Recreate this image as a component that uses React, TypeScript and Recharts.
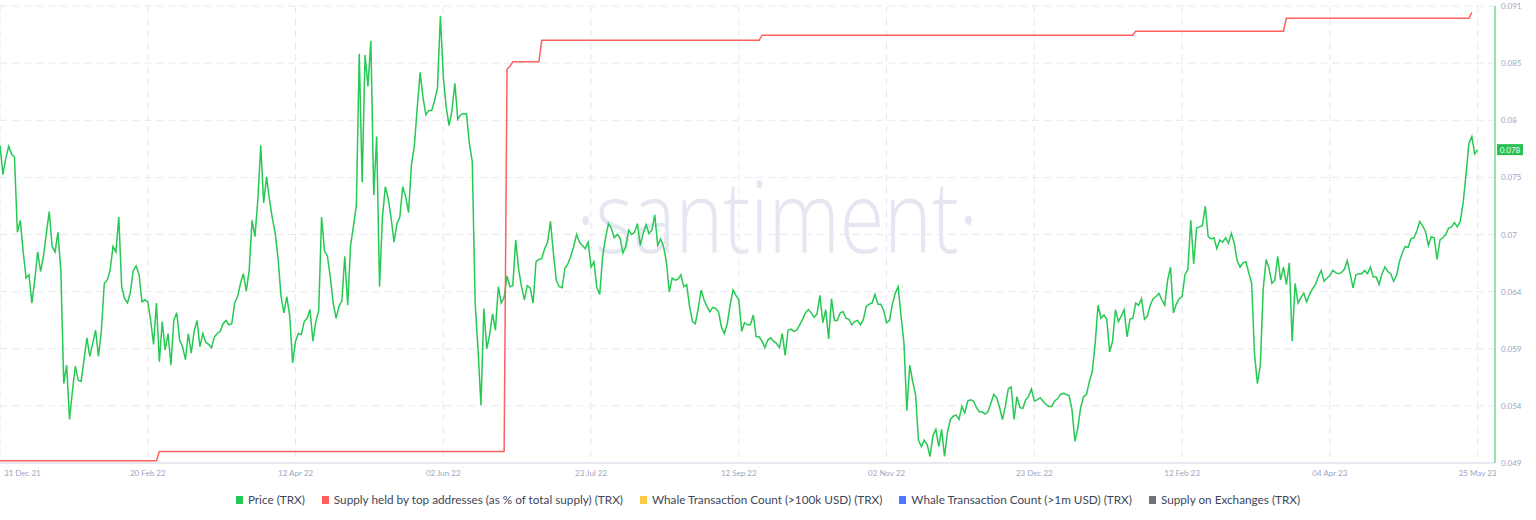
import React from 'react';
import { LineChart, Line, XAxis, YAxis, CartesianGrid, Legend, ReferenceLine } from 'recharts';

// x axis: days since 31 Dec 21
const tickDays = [0, 51, 102, 153, 204, 255, 306, 357, 408, 459, 510];
const tickLabels = ['31 Dec 21', '20 Feb 22', '12 Apr 22', '02 Jun 22', '23 Jul 22', '12 Sep 22', '02 Nov 22', '23 Dec 22', '12 Feb 23', '04 Apr 23', '25 May 23'];

// right (price) axis
const priceTicks = [0.049, 0.05425, 0.0595, 0.06475, 0.07, 0.07525, 0.0805, 0.08575, 0.091];
const priceTickLabels = ['0.049', '0.054', '0.059', '0.064', '0.07', '0.075', '0.08', '0.085', '0.091'];

// Price (TRX), one value per day starting 31 Dec 21
const prices = [
  0.0782, 0.0755, 0.0770, 0.0781, 0.0774, 0.0771, 0.0702, 0.0713, 0.0684, 0.0660,
  0.0663, 0.0637, 0.0658, 0.0684, 0.0666, 0.0680, 0.0701, 0.0721, 0.0689, 0.0684,
  0.0702, 0.0667, 0.0563, 0.0580, 0.0530, 0.0556, 0.0579, 0.0566, 0.0565, 0.0585,
  0.0605, 0.0588, 0.0600, 0.0612, 0.0588, 0.0612, 0.0655, 0.0658, 0.0667, 0.0689,
  0.0684, 0.0716, 0.0652, 0.0641, 0.0637, 0.0647, 0.0667, 0.0671, 0.0663, 0.0638,
  0.0640, 0.0638, 0.0621, 0.0599, 0.0637, 0.0583, 0.0620, 0.0594, 0.0609, 0.0580,
  0.0621, 0.0628, 0.0603, 0.0597, 0.0585, 0.0609, 0.0591, 0.0611, 0.0621, 0.0597,
  0.0609, 0.0601, 0.0599, 0.0596, 0.0606, 0.0609, 0.0611, 0.0618, 0.0621, 0.0617,
  0.0618, 0.0637, 0.0643, 0.0655, 0.0664, 0.0648, 0.0667, 0.0713, 0.0698, 0.0732,
  0.0782, 0.0729, 0.0753, 0.0732, 0.0715, 0.0701, 0.0677, 0.0643, 0.0628, 0.0643,
  0.0625, 0.0582, 0.0602, 0.0609, 0.0608, 0.0620, 0.0623, 0.0631, 0.0602, 0.0620,
  0.0630, 0.0716, 0.0685, 0.0680, 0.0661, 0.0637, 0.0623, 0.0634, 0.0639, 0.0680,
  0.0635, 0.0690, 0.0708, 0.0727, 0.0866, 0.0748, 0.0865, 0.0836, 0.0878, 0.0736,
  0.0790, 0.0652, 0.0716, 0.0744, 0.0733, 0.0715, 0.0693, 0.0710, 0.0716, 0.0744,
  0.0735, 0.0720, 0.0764, 0.0781, 0.0816, 0.0849, 0.0826, 0.0810, 0.0814, 0.0814,
  0.0823, 0.0835, 0.0901, 0.0845, 0.0817, 0.0800, 0.0814, 0.0839, 0.0806, 0.0810,
  0.0811, 0.0811, 0.0784, 0.0767, 0.0637, 0.0594, 0.0543, 0.0632, 0.0595, 0.0608,
  0.0627, 0.0612, 0.0652, 0.0637, 0.0642, 0.0662, 0.0652, 0.0653, 0.0695, 0.0668,
  0.0652, 0.0640, 0.0653, 0.0651, 0.0637, 0.0675, 0.0677, 0.0678, 0.0687, 0.0693,
  0.0712, 0.0683, 0.0658, 0.0652, 0.0651, 0.0669, 0.0673, 0.0680, 0.0689, 0.0700,
  0.0693, 0.0690, 0.0687, 0.0693, 0.0670, 0.0675, 0.0651, 0.0645, 0.0680, 0.0697,
  0.0710, 0.0706, 0.0697, 0.0700, 0.0697, 0.0683, 0.0689, 0.0704, 0.0700, 0.0702,
  0.0710, 0.0690, 0.0701, 0.0709, 0.0701, 0.0704, 0.0718, 0.0690, 0.0696, 0.0689,
  0.0675, 0.0647, 0.0660, 0.0658, 0.0659, 0.0663, 0.0652, 0.0654, 0.0634, 0.0620,
  0.0618, 0.0632, 0.0649, 0.0640, 0.0634, 0.0629, 0.0633, 0.0632, 0.0629, 0.0615,
  0.0609, 0.0618, 0.0635, 0.0649, 0.0644, 0.0640, 0.0611, 0.0619, 0.0617, 0.0617,
  0.0626, 0.0606, 0.0606, 0.0602, 0.0596, 0.0603, 0.0605, 0.0602, 0.0600, 0.0596,
  0.0609, 0.0589, 0.0612, 0.0613, 0.0611, 0.0612, 0.0617, 0.0622, 0.0628, 0.0631,
  0.0628, 0.0624, 0.0627, 0.0644, 0.0619, 0.0631, 0.0604, 0.0641, 0.0621, 0.0621,
  0.0628, 0.0629, 0.0623, 0.0622, 0.0617, 0.0620, 0.0621, 0.0617, 0.0622, 0.0634,
  0.0636, 0.0637, 0.0645, 0.0636, 0.0636, 0.0630, 0.0619, 0.0621, 0.0636, 0.0646,
  0.0652, 0.0625, 0.0600, 0.0538, 0.0580, 0.0565, 0.0553, 0.0511, 0.0505, 0.0511,
  0.0507, 0.0496, 0.0515, 0.0521, 0.0505, 0.0521, 0.0496, 0.0518, 0.0530, 0.0533,
  0.0534, 0.0530, 0.0542, 0.0536, 0.0547, 0.0548, 0.0547, 0.0541, 0.0537, 0.0537,
  0.0535, 0.0537, 0.0545, 0.0553, 0.0550, 0.0541, 0.0530, 0.0542, 0.0558, 0.0560,
  0.0530, 0.0551, 0.0541, 0.0540, 0.0548, 0.0551, 0.0558, 0.0547, 0.0548, 0.0550,
  0.0547, 0.0544, 0.0542, 0.0542, 0.0547, 0.0549, 0.0553, 0.0554, 0.0553, 0.0552,
  0.0539, 0.0510, 0.0522, 0.0541, 0.0551, 0.0553, 0.0565, 0.0574, 0.0600, 0.0635,
  0.0623, 0.0626, 0.0622, 0.0592, 0.0602, 0.0631, 0.0620, 0.0625, 0.0631, 0.0606,
  0.0622, 0.0623, 0.0637, 0.0635, 0.0641, 0.0622, 0.0625, 0.0635, 0.0641, 0.0643,
  0.0646, 0.0640, 0.0635, 0.0658, 0.0670, 0.0628, 0.0636, 0.0641, 0.0643, 0.0663,
  0.0668, 0.0713, 0.0673, 0.0706, 0.0707, 0.0708, 0.0726, 0.0698, 0.0696, 0.0697,
  0.0687, 0.0695, 0.0693, 0.0697, 0.0692, 0.0701, 0.0692, 0.0676, 0.0670, 0.0674,
  0.0675, 0.0665, 0.0655, 0.0590, 0.0563, 0.0580, 0.0650, 0.0677, 0.0669, 0.0655,
  0.0658, 0.0680, 0.0658, 0.0670, 0.0654, 0.0674, 0.0602, 0.0655, 0.0637, 0.0642,
  0.0646, 0.0638, 0.0645, 0.0650, 0.0654, 0.0661, 0.0667, 0.0657, 0.0660, 0.0662,
  0.0667, 0.0665, 0.0664, 0.0665, 0.0668, 0.0676, 0.0664, 0.0651, 0.0663, 0.0664,
  0.0664, 0.0667, 0.0664, 0.0670, 0.0661, 0.0661, 0.0654, 0.0664, 0.0670, 0.0666,
  0.0664, 0.0657, 0.0662, 0.0675, 0.0683, 0.0689, 0.0688, 0.0696, 0.0697, 0.0703,
  0.0712, 0.0708, 0.0703, 0.0690, 0.0698, 0.0697, 0.0677, 0.0695, 0.0697, 0.0700,
  0.0706, 0.0707, 0.0711, 0.0707, 0.0712, 0.0729, 0.0755, 0.0784, 0.0790, 0.0774,
  0.0778,
];

// Supply held by top addresses (% of total supply), change points
const supplyDays = [0, 54, 55, 174, 175, 176, 177, 186, 187, 262, 263, 391, 392, 443, 444, 507, 508];
const supplyValues = [80.05, 80.05, 80.25, 80.25, 88.62, 88.68, 88.78, 88.78, 89.25, 89.25, 89.36, 89.36, 89.45, 89.45, 89.73, 89.73, 89.86];

const seriesNames = [
  'Price (TRX)',
  'Supply held by top addresses (as % of total supply) (TRX)',
  'Whale Transaction Count (>100k USD) (TRX)',
  'Whale Transaction Count (>1m USD) (TRX)',
  'Supply on Exchanges (TRX)',
];
const seriesColors = ['#26c953', '#ff5f5f', '#ffcb47', '#5275ff', '#6f727d'];

const priceData = prices.map((p, i) => ({ day: i, price: p }));
const supplyData = supplyDays.map((d, i) => ({ day: d, supply: supplyValues[i] }));
const lastPrice = prices[prices.length - 1];

const FONT = 'Lato, "Open Sans", sans-serif';
const TICK_COLOR = '#9da6bf';

const XTick = (props: any) => {
  const { x, y, payload } = props;
  const i = tickDays.indexOf(payload.value);
  const first = i === 0;
  return (
    <text x={first ? x + 4 : x} y={y} dy={6} textAnchor={first ? 'start' : 'middle'} fontSize={8} fontFamily={FONT} fill={TICK_COLOR}>
      {tickLabels[i]}
    </text>
  );
};

const YTick = (props: any) => {
  const { x, y, payload } = props;
  const i = priceTicks.indexOf(payload.value);
  return (
    <text x={x} y={y} dy={3} textAnchor="start" fontSize={8} fontFamily={FONT} fill={TICK_COLOR}>
      {priceTickLabels[i]}
    </text>
  );
};

const LegendContent = (props: any) => {
  const payload = [...(props.payload || [])].sort(
    (a: any, b: any) => seriesNames.indexOf(a.value) - seriesNames.indexOf(b.value)
  );
  return (
    <div style={{ display: 'flex', justifyContent: 'center', paddingTop: 10, fontFamily: FONT, fontSize: 11.75, color: '#3e4659', lineHeight: '14px' }}>
      {payload.map((item: any, i: number) => (
        <div key={i} style={{ display: 'flex', alignItems: 'center', marginRight: i < payload.length - 1 ? 17 : 0 }}>
          <span style={{ display: 'inline-block', width: 7, height: 8, background: item.color, marginRight: 5 }} />
          <span>{item.value}</span>
        </div>
      ))}
    </div>
  );
};

const Badge = (props: any) => {
  const vb = props.viewBox || {};
  const x = (vb.x || 0) + (vb.width || 0) + 2;
  const y = vb.y || 0;
  return (
    <g>
      <rect x={x} y={y - 5.5} width={26} height={11} fill="#28c150" />
      <text x={x + 13} y={y + 3} textAnchor="middle" fontSize={8} fontFamily={FONT} fill="#ffffff">
        {lastPrice.toFixed(3)}
      </text>
    </g>
  );
};

export default function App() {
  return (
    <div style={{ position: 'absolute', left: 0, top: 0, width: 1536, height: 520, background: '#ffffff', fontFamily: FONT }}>
      <svg width={1536} height={520} style={{ position: 'absolute', left: 0, top: 0 }}>
        <text x={576} y={253} fontSize={100} fontWeight={300} fontFamily='"Open Sans", Lato, sans-serif' fill="#e4e7f1" textLength={402} lengthAdjust="spacingAndGlyphs">
          ·santiment·
        </text>
      </svg>
      <div style={{ position: 'absolute', left: 0, top: 0 }}>
        <LineChart width={1536} height={520} margin={{ top: 6, right: 0, bottom: 0, left: 0 }}>
          <CartesianGrid yAxisId="price" stroke="#e6e8f0" strokeDasharray="7 5" ticks={priceTicks as any} />
          <XAxis
            dataKey="day"
            type="number"
            domain={[0, 516]}
            ticks={tickDays}
            allowDataOverflow
            height={20}
            tickLine={false}
            tickSize={5}
            tickMargin={2}
            axisLine={{ stroke: '#e8eaf1', strokeWidth: 2 }}
            tick={<XTick />}
            interval={0}
          />
          <YAxis
            yAxisId="price"
            orientation="right"
            domain={[0.049, 0.091]}
            ticks={priceTicks}
            width={41}
            tickLine={false}
            tickSize={4}
            tickMargin={2}
            axisLine={{ stroke: '#97e2aa', strokeWidth: 2 }}
            tick={<YTick />}
            interval={0}
            allowDataOverflow
          />
          <YAxis yAxisId="supply" hide domain={[80, 90]} />
          <YAxis yAxisId="other" hide />
          <Line yAxisId="price" data={priceData} dataKey="price" name={seriesNames[0]} stroke={seriesColors[0]} strokeWidth={1.5} dot={false} isAnimationActive={false} />
          <Line yAxisId="supply" data={supplyData} dataKey="supply" name={seriesNames[1]} stroke={seriesColors[1]} strokeWidth={1.5} dot={false} isAnimationActive={false} />
          <Line yAxisId="other" data={[]} dataKey="whale100k" name={seriesNames[2]} stroke={seriesColors[2]} dot={false} isAnimationActive={false} />
          <Line yAxisId="other" data={[]} dataKey="whale1m" name={seriesNames[3]} stroke={seriesColors[3]} dot={false} isAnimationActive={false} />
          <Line yAxisId="other" data={[]} dataKey="exchanges" name={seriesNames[4]} stroke={seriesColors[4]} dot={false} isAnimationActive={false} />
          <ReferenceLine yAxisId="price" y={lastPrice} stroke="none" label={<Badge />} />
          <Legend verticalAlign="bottom" height={37} content={<LegendContent />} />
        </LineChart>
      </div>
    </div>
  );
}
